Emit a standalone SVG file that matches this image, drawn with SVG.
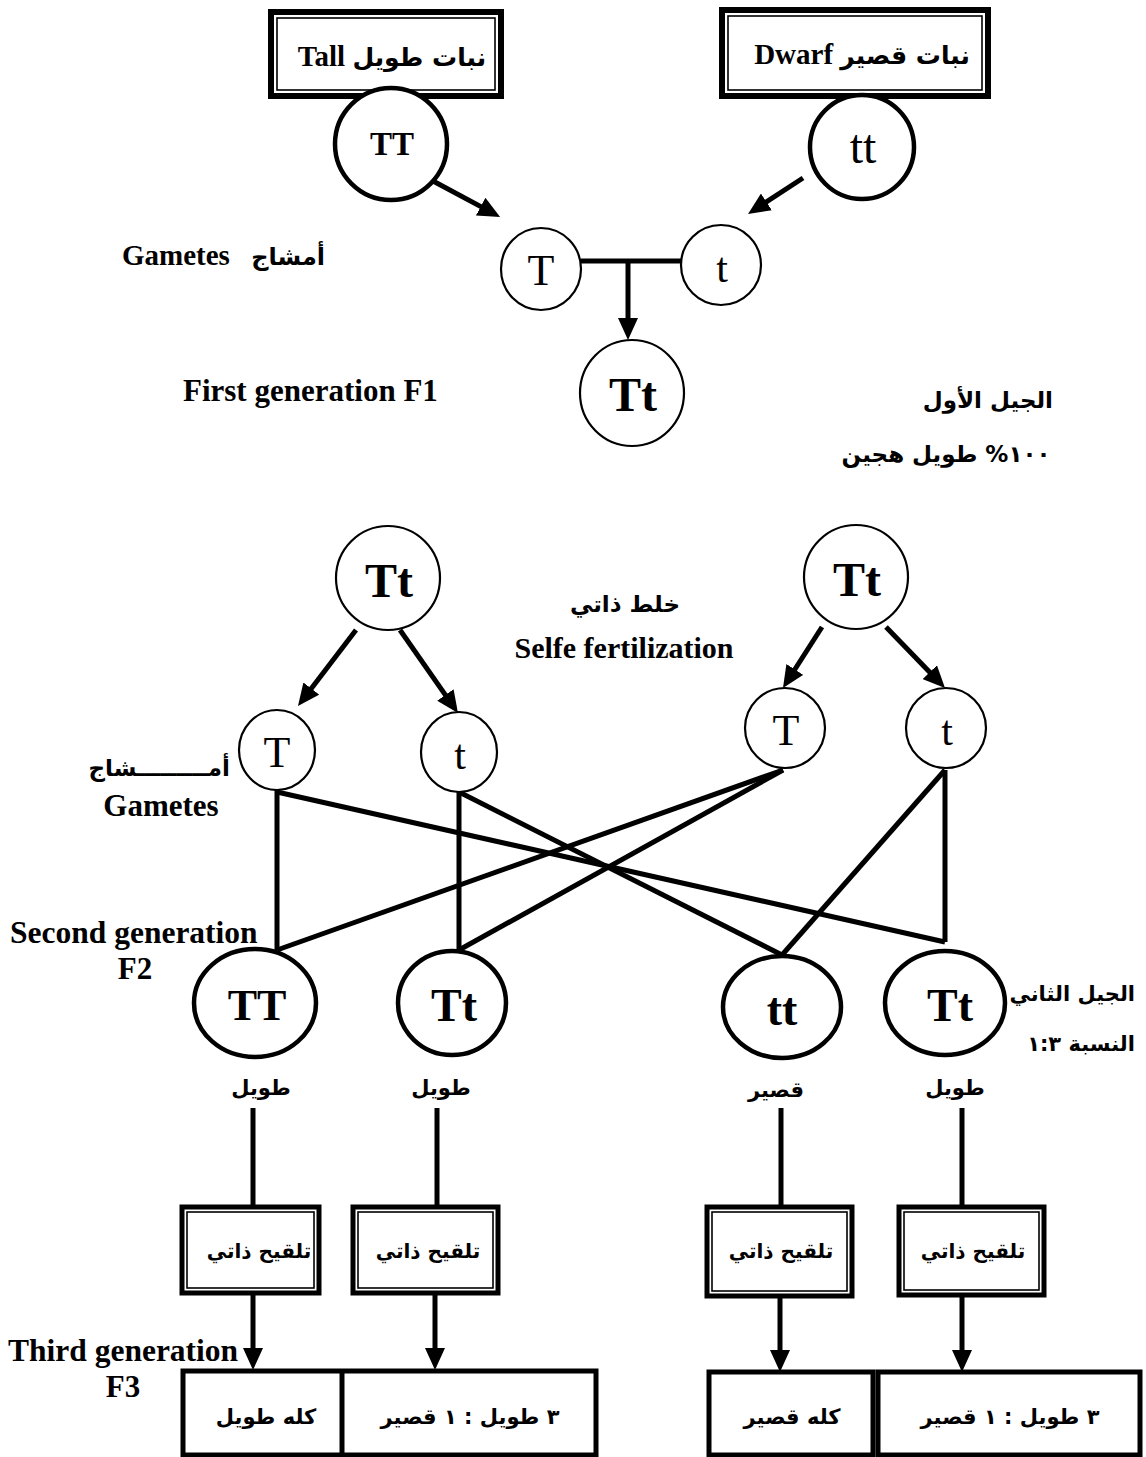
<svg xmlns="http://www.w3.org/2000/svg" width="1146" height="1457" viewBox="0 0 1146 1457">
<style>
text{font-family:"Liberation Serif","DejaVu Sans",serif;font-weight:bold;fill:#000}
.ar{font-family:"DejaVu Sans","Noto Sans",sans-serif;font-weight:bold}
.thick{fill:#fff;stroke:#000;stroke-width:4.5}
.thin{fill:#fff;stroke:#000;stroke-width:2.2}
.frame{fill:#fff;stroke:#000;stroke-width:6}
.bframe{fill:#fff;stroke:#000;stroke-width:5}
.inner{fill:none;stroke:#000;stroke-width:1.6}
.con{stroke:#000;stroke-width:5;fill:none}
.arr{stroke:#000;stroke-width:5;fill:none;marker-end:url(#ah)}
.g{font-family:"Liberation Serif",serif;font-weight:normal}
</style>
<defs>
<marker id="ah" viewBox="0 0 22 20" refX="6" refY="10" markerWidth="22" markerHeight="20" markerUnits="userSpaceOnUse" orient="auto">
<path d="M0,0 L22,10 L0,20 z" fill="#000"/>
</marker>
</defs>
<rect width="1146" height="1457" fill="#fff"/>

<g id="connectors">
<line class="arr" x1="433" y1="181" x2="486" y2="209.4"/>
<line class="arr" x1="803" y1="178" x2="761.4" y2="205.2"/>
<line class="con" x1="581" y1="261" x2="681" y2="261"/>
<line class="arr" x1="628" y1="259" x2="628" y2="324"/>
<line class="arr" x1="356" y1="630" x2="307.7" y2="693.3"/>
<line class="arr" x1="400" y1="630" x2="448.8" y2="699.9"/>
<line class="arr" x1="822" y1="627" x2="791.6" y2="674.5"/>
<line class="arr" x1="886" y1="627" x2="933.9" y2="676.5"/>
<line class="con" x1="277" y1="790" x2="277" y2="950"/>
<line class="con" x1="277" y1="792" x2="945" y2="942"/>
<line class="con" x1="459" y1="792" x2="459" y2="950"/>
<line class="con" x1="459" y1="792" x2="782" y2="955"/>
<line class="con" x1="783" y1="770" x2="277" y2="950"/>
<line class="con" x1="783" y1="770" x2="459" y2="950"/>
<line class="con" x1="945" y1="770" x2="782" y2="955"/>
<line class="con" x1="945" y1="770" x2="945" y2="942"/>
<line class="con" x1="253" y1="1108" x2="253" y2="1207"/>
<line class="con" x1="437" y1="1108" x2="437" y2="1207"/>
<line class="con" x1="781" y1="1108" x2="781" y2="1207"/>
<line class="con" x1="962" y1="1108" x2="962" y2="1207"/>
<line class="arr" x1="253" y1="1293" x2="253" y2="1354"/>
<line class="arr" x1="435" y1="1293" x2="435" y2="1354"/>
<line class="arr" x1="780" y1="1296" x2="780" y2="1356"/>
<line class="arr" x1="962" y1="1295" x2="962" y2="1356"/>
</g>

<g id="box-tall">
<rect class="frame" x="271" y="12" width="230" height="84"/>
<rect class="inner" x="277" y="18" width="218" height="72"/>
<text x="392" y="66" font-size="29" text-anchor="middle">Tall <tspan class="ar" font-size="25">نبات طويل</tspan></text>
</g>
<g id="box-dwarf">
<rect class="frame" x="722" y="10" width="266" height="86"/>
<rect class="inner" x="728" y="16" width="254" height="74"/>
<text x="862" y="64" font-size="29" text-anchor="middle">Dwarf <tspan class="ar" font-size="25">نبات قصير</tspan></text>
</g>
<g id="p-TT">
<circle class="thick" cx="391" cy="144" r="56"/>
<text x="392" y="155" font-size="33" text-anchor="middle">TT</text>
</g>
<g id="p-tt">
<circle class="thick" cx="862" cy="147" r="52"/>
<text class="g" x="863" y="163" font-size="48" text-anchor="middle">tt</text>
</g>
<g id="g1-T">
<ellipse class="thin" cx="541" cy="269" rx="40" ry="41"/>
<text class="g" x="541" y="285" font-size="44" text-anchor="middle">T</text>
</g>
<g id="g1-t">
<ellipse class="thin" cx="721" cy="265" rx="40" ry="40"/>
<text class="g" x="722" y="282" font-size="42" text-anchor="middle">t</text>
</g>
<g id="f1-Tt">
<ellipse class="thin" cx="632" cy="393" rx="52" ry="53"/>
<text x="633" y="411" font-size="48" text-anchor="middle">Tt</text>
</g>

<g id="labels-top">
<text x="122" y="265" font-size="29">Gametes <tspan class="ar" font-size="24" dx="14">أمشاج</tspan></text>
<text x="183" y="401" font-size="31">First generation F1</text>
<text class="ar" x="1053" y="408" font-size="23" text-anchor="end">الجيل الأول</text>
<text class="ar" x="946" y="462" font-size="23" text-anchor="middle" direction="rtl">١٠٠% طويل هجين</text>
</g>

<g id="f1-left">
<circle class="thin" cx="388" cy="578" r="52"/>
<text x="389" y="597" font-size="48" text-anchor="middle">Tt</text>
</g>
<g id="f1-right">
<circle class="thin" cx="856" cy="577" r="52"/>
<text x="857" y="596" font-size="48" text-anchor="middle">Tt</text>
</g>
<g id="self-label">
<text class="ar" x="625" y="612" font-size="23" text-anchor="middle">خلط ذاتي</text>
<text x="624" y="658" font-size="30" text-anchor="middle">Selfe fertilization</text>
</g>
<g id="g2-T1">
<ellipse class="thin" cx="277" cy="750" rx="38" ry="40"/>
<text class="g" x="277" y="767" font-size="44" text-anchor="middle">T</text>
</g>
<g id="g2-t1">
<ellipse class="thin" cx="459" cy="752" rx="38" ry="40"/>
<text class="g" x="460" y="769" font-size="42" text-anchor="middle">t</text>
</g>
<g id="g2-T2">
<ellipse class="thin" cx="785" cy="728" rx="40" ry="40"/>
<text class="g" x="786" y="745" font-size="44" text-anchor="middle">T</text>
</g>
<g id="g2-t2">
<ellipse class="thin" cx="946" cy="728" rx="40" ry="40"/>
<text class="g" x="947" y="745" font-size="42" text-anchor="middle">t</text>
</g>
<g id="labels-gametes2">
<text class="ar" x="230" y="776" font-size="23" text-anchor="end">أمـــــــــشاج</text>
<text x="161" y="816" font-size="31" text-anchor="middle">Gametes</text>
</g>

<g id="f2-TT">
<ellipse class="thick" cx="255" cy="1003" rx="61" ry="54"/>
<text x="257" y="1020" font-size="44" text-anchor="middle">TT</text>
</g>
<g id="f2-Tt1">
<ellipse class="thick" cx="452" cy="1003" rx="54" ry="52"/>
<text x="454" y="1021" font-size="46" text-anchor="middle">Tt</text>
</g>
<g id="f2-tt">
<ellipse class="thick" cx="782" cy="1007" rx="59" ry="51"/>
<text x="782" y="1025" font-size="46" text-anchor="middle">tt</text>
</g>
<g id="f2-Tt2">
<ellipse class="thick" cx="945" cy="1003" rx="60" ry="52"/>
<text x="950" y="1021" font-size="46" text-anchor="middle">Tt</text>
</g>
<g id="labels-f2">
<text x="10" y="943" font-size="31.5">Second generation</text>
<text x="135" y="979" font-size="31" text-anchor="middle">F2</text>
<text class="ar" x="1135" y="1001" font-size="21" text-anchor="end">الجيل الثاني</text>
<text class="ar" x="1081" y="1051" font-size="21" text-anchor="middle" direction="rtl">النسبة ١:٣</text>
<text class="ar" x="261" y="1095" font-size="21" text-anchor="middle">طويل</text>
<text class="ar" x="441" y="1095" font-size="21" text-anchor="middle">طويل</text>
<text class="ar" x="776" y="1097" font-size="21" text-anchor="middle">قصير</text>
<text class="ar" x="955" y="1095" font-size="21" text-anchor="middle">طويل</text>
</g>

<g id="self1">
<rect class="bframe" x="182" y="1207" width="137" height="86"/>
<rect class="inner" x="187" y="1212" width="127" height="76"/>
<text class="ar" x="259" y="1258" font-size="20" text-anchor="middle">تلقيح ذاتي</text>
</g>
<g id="self2">
<rect class="bframe" x="353" y="1207" width="145" height="86"/>
<rect class="inner" x="358" y="1212" width="135" height="76"/>
<text class="ar" x="428" y="1258" font-size="20" text-anchor="middle">تلقيح ذاتي</text>
</g>
<g id="self3">
<rect class="bframe" x="707" y="1207" width="145" height="89"/>
<rect class="inner" x="712" y="1212" width="135" height="79"/>
<text class="ar" x="781" y="1258" font-size="20" text-anchor="middle">تلقيح ذاتي</text>
</g>
<g id="self4">
<rect class="bframe" x="899" y="1207" width="145" height="88"/>
<rect class="inner" x="904" y="1212" width="135" height="78"/>
<text class="ar" x="973" y="1258" font-size="20" text-anchor="middle">تلقيح ذاتي</text>
</g>

<g id="labels-f3">
<text x="8" y="1361" font-size="31.5">Third generation</text>
<text x="123" y="1397" font-size="31" text-anchor="middle">F3</text>
</g>
<g id="f3-left">
<rect class="bframe" x="183" y="1371" width="413" height="84"/>
<line class="con" x1="342" y1="1371" x2="342" y2="1455"/>
<text class="ar" x="266" y="1424" font-size="21" text-anchor="middle">كله طويل</text>
<text class="ar" x="470" y="1424" font-size="21" text-anchor="middle" direction="rtl">٣ طويل : ١ قصير</text>
</g>
<g id="f3-short">
<rect class="bframe" x="709" y="1372" width="164" height="83"/>
<text class="ar" x="792" y="1424" font-size="21" text-anchor="middle">كله قصير</text>
</g>
<g id="f3-right">
<rect class="bframe" x="878" y="1372" width="262" height="83"/>
<text class="ar" x="1010" y="1424" font-size="21" text-anchor="middle" direction="rtl">٣ طويل : ١ قصير</text>
</g>
</svg>
